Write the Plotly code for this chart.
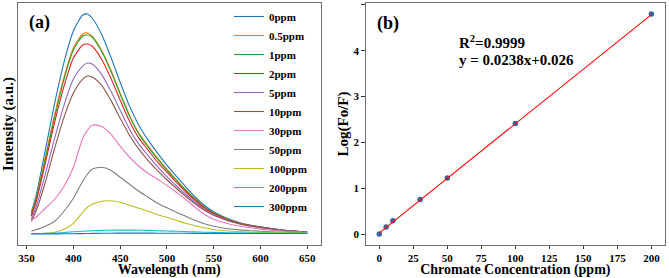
import plotly.graph_objects as go

W, H = 669, 278

# ---------------- Panel (a): emission spectra ----------------
wavelength = [355, 360, 370, 380, 390, 400, 410, 415, 420, 430, 440, 450, 460, 470,
              480, 490, 500, 510, 520, 530, 540, 550, 560, 570, 580, 600, 620, 650]

series_names = ["0ppm", "0.5ppm", "1ppm", "2ppm", "5ppm", "10ppm", "30ppm",
                "50ppm", "100ppm", "200ppm", "300ppm"]

i_0 = [22, 38, 84, 131, 172, 203, 219, 220, 216, 200, 177, 152, 128, 109,
       94, 81, 69, 58, 47.5, 37.5, 29, 22.5, 17.8, 14, 11, 7.5, 4.8, 2.2]
i_05 = [20, 35, 77, 120, 157, 186, 200, 201, 198, 184, 164, 141, 119, 101,
        88, 76, 65, 54.5, 44.5, 35.5, 27.5, 21.3, 17, 13.5, 10.5, 7.2, 4.6, 2.1]
i_1 = [19, 34, 75, 117, 155, 184, 198, 199, 197, 183, 163, 140, 118, 100,
       87, 75, 64, 54, 44, 35, 27.3, 21.2, 17, 13.5, 10.5, 7.2, 4.6, 2.1]
i_2 = [18, 32, 71, 112, 148, 176, 189, 190, 188, 175, 156, 134, 113, 96,
       84, 72, 62, 52, 42.5, 34, 26.5, 20.7, 16.5, 13, 10.3, 7, 4.5, 2.1]
i_5 = [15, 27, 60, 96, 129, 155, 168, 171, 170, 160, 143, 124, 105, 90,
       78.5, 67.5, 57.5, 48.5, 40, 32, 25, 19.7, 15.7, 12.5, 10, 6.8, 4.4, 2]
i_10 = [13, 23, 52, 86, 117, 141, 155, 158, 157, 149, 134, 116, 99, 85,
        73.5, 63.5, 54.5, 46, 38, 30.5, 24, 19, 15.3, 12.2, 9.8, 6.6, 4.3, 2]
i_30 = [14, 17, 26, 35, 48, 67, 96, 104, 109, 108, 100, 88, 77, 68,
        61, 55, 49, 42, 35, 27, 20, 15, 12, 9.5, 7.8, 5.2, 3.5, 1.8]
i_50 = [3, 4.5, 8, 13, 23, 36, 53, 60, 65, 67, 64, 57, 50, 43,
        37, 31, 26.5, 22, 18, 14, 10.5, 8, 6.3, 5, 4.2, 3, 2.2, 1.5]
i_100 = [0.5, 0.6, 1, 2, 5, 11, 22, 27, 30, 33, 33.5, 32, 29, 26,
         23, 19.5, 17, 14, 11, 8.5, 6.5, 4.8, 3.8, 3, 2.5, 1.8, 1.4, 1.2]
i_200 = [0.8, 0.8, 0.9, 1.2, 1.8, 2.5, 3, 3.3, 3.5, 3.9, 4.1, 4.2, 4.2, 4.1,
         3.9, 3.6, 3.3, 3, 2.7, 2.4, 2.1, 1.9, 1.7, 1.5, 1.4, 1.2, 1.1, 1.0]
i_300 = [0.3, 0.3, 0.3, 0.4, 0.5, 0.6, 0.7, 0.8, 0.9, 1.0, 1.1, 1.2, 1.2, 1.2,
         1.2, 1.1, 1.1, 1.0, 1.0, 0.9, 0.9, 0.9, 0.8, 0.8, 0.8, 0.8, 0.8, 0.8]

intensities = [i_0, i_05, i_1, i_2, i_5, i_10, i_30, i_50, i_100, i_200, i_300]
colors = ["#1f77b4", "#ff7f0e", "#2ca02c", "#d62728", "#9467bd", "#8c564b",
          "#e377c2", "#7f7f7f", "#bcbd22", "#17becf", "#1f77b4"]
wl_ticks = [350, 400, 450, 500, 550, 600, 650]

# ---------------- Panel (b): calibration ----------------
conc = [0, 5, 10, 30, 50, 100, 200]
log_ratio = [0.0, 0.153, 0.29, 0.75, 1.22, 2.41, 4.80]
slope, intercept = 0.0238, 0.026
fit_x = [0, 200]
conc_ticks = [0, 25, 50, 75, 100, 125, 150, 175, 200]
log_ticks = [0, 1, 2, 3, 4, 5]

FONT = "Liberation Serif"
FRAME = "#707070"

fig = go.Figure()
for name, ys, c in zip(series_names, intensities, colors):
    fig.add_trace(go.Scatter(x=wavelength, y=ys, mode="lines", name=name,
                             line=dict(color=c, width=1.1, shape="spline", smoothing=0.7),
                             xaxis="x", yaxis="y"))

fig.add_trace(go.Scatter(x=conc, y=log_ratio, mode="markers", showlegend=False,
                         marker=dict(color="#3a64a0", size=5.5),
                         xaxis="x2", yaxis="y2"))
fig.add_trace(go.Scatter(x=fit_x, y=[slope * v + intercept for v in fit_x],
                         mode="lines", showlegend=False,
                         line=dict(color="red", width=1.1),
                         xaxis="x2", yaxis="y2"))

# ranges with matplotlib-like 5% margins
all_i = [v for s in intensities for v in s]
imin, imax = min(all_i), max(all_i)
wmin, wmax = min(wavelength), max(wavelength)
yr = [imin - 0.05 * (imax - imin), imax + 0.05 * (imax - imin)]
xr = [wmin - 0.05 * (wmax - wmin), wmax + 0.05 * (wmax - wmin)]
cx = [min(conc) - 0.05 * (max(conc) - min(conc)), max(conc) + 0.05 * (max(conc) - min(conc))]
ly = [min(log_ratio) - 0.05 * (max(log_ratio) - min(log_ratio)),
      max(log_ratio) + 0.05 * (max(log_ratio) - min(log_ratio))]

ydom = [1 - 245 / H, 1 - 3 / H]
tickfont = dict(family=FONT, size=11, color="black", weight="bold")
titlefont_x = dict(family=FONT, size=14, color="black", weight="bold")
titlefont_y = dict(family=FONT, size=15, color="black", weight="bold")

common = dict(showline=True, mirror=True, linecolor=FRAME, linewidth=1,
              showgrid=False, zeroline=False, automargin=False)

fig.update_layout(
    width=W, height=H,
    margin=dict(l=0, r=0, t=0, b=0),
    paper_bgcolor="white", plot_bgcolor="white",
    font=dict(family=FONT),
    xaxis=dict(domain=[17.5 / W, 321 / W], range=xr, tickvals=wl_ticks,
               ticks="outside", ticklen=3, tickwidth=0.8, tickcolor="#333",
               tickfont=tickfont, anchor="y", ticklabelstandoff=0,
               title=dict(text="Wavelength (nm)", font=titlefont_x, standoff=3),
               **common),
    yaxis=dict(domain=ydom, range=yr, showticklabels=False, ticks="", anchor="x",
               title=dict(text="Intensity (a.u.)", font=titlefont_y, standoff=2),
               **common),
    xaxis2=dict(domain=[365.7 / W, 665 / W], range=cx, tickvals=conc_ticks,
                ticks="outside", ticklen=3, tickwidth=0.8, tickcolor="#333",
                tickfont=tickfont, anchor="y2", ticklabelstandoff=0,
                title=dict(text="Chromate Concentration (ppm)", font=titlefont_x, standoff=3),
                **common),
    yaxis2=dict(domain=ydom, range=ly, tickvals=log_ticks,
                ticks="outside", ticklen=3.5, tickwidth=0.8, tickcolor="#333",
                tickfont=tickfont, anchor="x2",
                title=dict(text="Log(Fo/F)", font=titlefont_y, standoff=1),
                **common),
    legend=dict(x=229 / W, y=1 - 2 / H, xanchor="left", yanchor="top",
                bgcolor="rgba(0,0,0,0)", borderwidth=0,
                font=dict(family=FONT, size=11, color="black", weight="bold"),
                tracegroupgap=0),
    showlegend=True,
)

fig.add_annotation(x=27 / W, y=1 - 22.7 / H, xref="paper", yref="paper",
                   text="(a)", showarrow=False, xanchor="left", yanchor="middle",
                   font=dict(family=FONT, size=18, color="black", weight="bold"))
fig.add_annotation(x=374.5 / W, y=1 - 23.3 / H, xref="paper", yref="paper",
                   text="(b)", showarrow=False, xanchor="left", yanchor="middle",
                   font=dict(family=FONT, size=18, color="black", weight="bold"))
fig.add_annotation(x=457 / W, y=1 - 41.7 / H, xref="paper", yref="paper",
                   text="R<sup>2</sup>=0.9999", showarrow=False, xanchor="left", yanchor="middle",
                   font=dict(family=FONT, size=15, color="black", weight="bold"))
fig.add_annotation(x=457 / W, y=1 - 60 / H, xref="paper", yref="paper",
                   text=f"y = {slope}x+{intercept}", showarrow=False, xanchor="left",
                   yanchor="middle",
                   font=dict(family=FONT, size=15, color="black", weight="bold"))

fig.write_html("out.html", config={"displayModeBar": False},
               post_script="document.body.style.margin='0';")
